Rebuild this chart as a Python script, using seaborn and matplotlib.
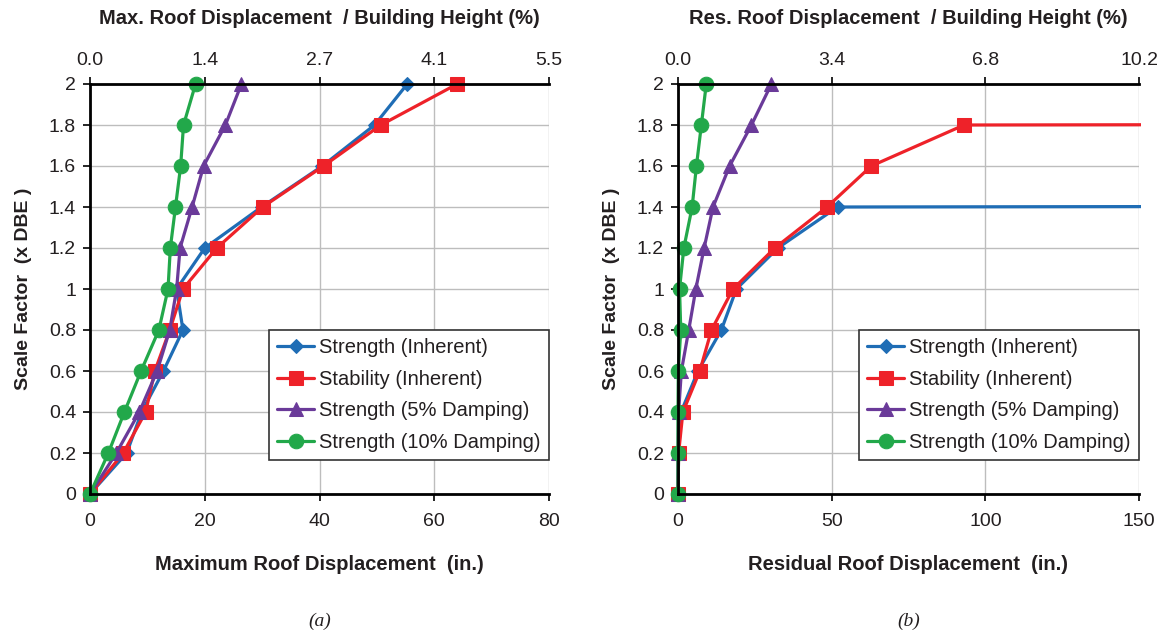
import numpy as np
import pandas as pd
import matplotlib
matplotlib.use("Agg")
import matplotlib.pyplot as plt
import seaborn as sns
from matplotlib.patches import Rectangle

sns.set_theme(style="white")
plt.rcParams['font.family'] = ['Liberation Sans', 'DejaVu Sans']

# ---------------- data ----------------
scale_factor = [0, 0.2, 0.4, 0.6, 0.8, 1.0, 1.2, 1.4, 1.6, 1.8, 2.0]
COLLAPSE = 1.0e4  # residual drift beyond plotted range (collapse)

max_strength_inh = [0, 6.4, 9.0, 12.8, 16.2, 15.1, 20.0, 29.9, 40.5, 49.6, 55.3]
max_stability_inh = [0, 5.8, 9.7, 11.3, 13.9, 16.2, 22.1, 30.1, 40.7, 50.7, 64.0]
max_strength_5 = [0, 4.6, 8.6, 11.7, 13.9, 15.1, 15.7, 17.8, 19.8, 23.6, 26.4]
max_strength_10 = [0, 3.2, 6.0, 8.9, 12.0, 13.6, 14.0, 14.9, 15.8, 16.3, 18.4]

res_strength_inh = [0, 0.2, 1.0, 6.5, 14.1, 19.0, 32.5, 51.9, COLLAPSE, np.nan, np.nan]
res_stability_inh = [0, 0.2, 1.6, 7.1, 10.9, 17.9, 31.5, 48.5, 62.9, 93.1, COLLAPSE]
res_strength_5 = [0, 0.0, 0.2, 1.1, 3.5, 5.8, 8.5, 11.4, 16.8, 23.9, 30.4]
res_strength_10 = [0, 0.0, 0.0, 0.1, 0.9, 0.5, 1.9, 4.6, 6.0, 7.6, 9.2]

series_names = ["Strength (Inherent)", "Stability (Inherent)",
                "Strength (5% Damping)", "Strength (10% Damping)"]
colors = ["#1f6db5", "#ee2229", "#6a3a99", "#22a84a"]
markers = ["D", "s", "^", "o"]
msizes = [7, 10, 9.5, 10.5]

y_ticks = [0, 0.2, 0.4, 0.6, 0.8, 1.0, 1.2, 1.4, 1.6, 1.8, 2.0]
y_ticklabels = ["0", "0.2", "0.4", "0.6", "0.8", "1", "1.2", "1.4", "1.6", "1.8", "2"]

a_xticks = [0, 20, 40, 60, 80]
a_top_labels = ["0.0", "1.4", "2.7", "4.1", "5.5"]
b_xticks = [0, 50, 100, 150]
b_top_labels = ["0.0", "3.4", "6.8", "10.2"]

TXT = "#231f20"
fig = plt.figure(figsize=(11.63, 6.34), dpi=100)
W, H = 1163, 634
ax_a = fig.add_axes([90 / W, 1 - 494 / H, (549 - 90) / W, 410 / H])
ax_b = fig.add_axes([678 / W, 1 - 494 / H, (1139 - 678) / W, 410 / H])


def draw(ax, xs_list, xticks, xlim, toplabels, bottom_label, top_label, caption):
    for xs, name, c, m, ms in zip(xs_list, series_names, colors, markers, msizes):
        df = pd.DataFrame({"x": xs, "y": scale_factor})
        sns.lineplot(data=df, x="x", y="y", ax=ax, sort=False, estimator=None,
                     color=c, marker=m, markersize=ms, markeredgecolor=c,
                     linewidth=2.3, label=name)
    clip = Rectangle((-0.05, -0.05), 1.055, 1.12, transform=ax.transAxes)
    for ln in ax.lines:
        ln.set_clip_path(clip)
    ax.set_xlim(*xlim)
    ax.set_ylim(0, 2)
    ax.set_xticks(xticks)
    ax.set_xticklabels([str(t) for t in xticks])
    ax.set_yticks(y_ticks)
    ax.set_yticklabels(y_ticklabels)
    ax.grid(True, color="#bdbdbd", linewidth=1.0)
    ax.set_axisbelow(True)
    for s in ["left", "bottom", "top"]:
        ax.spines[s].set_visible(True)
        ax.spines[s].set_color("black")
        ax.spines[s].set_linewidth(2.0)
    ax.spines["right"].set_visible(False)
    ax.tick_params(axis="both", which="both", direction="out", length=5,
                   width=1.2, color="black", labelsize=14, labelcolor=TXT,
                   left=True, bottom=True, pad=5)
    ax.tick_params(axis="x", pad=9)
    ax.set_xlabel(bottom_label, fontsize=14.5, fontweight="bold", color=TXT, labelpad=18)
    ax.set_ylabel("Scale Factor  (x DBE )", fontsize=14, fontweight="bold",
                  color=TXT, labelpad=12)
    sec = ax.secondary_xaxis("top")
    sec.set_xticks(xticks, labels=toplabels)
    sec.tick_params(direction="out", length=5, width=1.2, color="black",
                    labelsize=14, labelcolor=TXT, pad=6)
    sec.spines["top"].set_visible(False)
    sec.set_xlabel(top_label, fontsize=14.5, fontweight="bold", color=TXT, labelpad=20)
    leg = ax.legend(loc="lower right", bbox_to_anchor=(1.0, 0.083), fontsize=14.5,
                    frameon=True, fancybox=False, framealpha=1, edgecolor="#333333",
                    handlelength=1.85, handletextpad=0.25, labelspacing=0.62,
                    borderpad=0.4, borderaxespad=0)
    leg.get_frame().set_linewidth(1.2)
    for t in leg.get_texts():
        t.set_color(TXT)
    ax.text(0.5, -0.31, caption, transform=ax.transAxes, ha="center", va="center",
            fontsize=14, fontstyle="italic", family=["Liberation Serif"], color=TXT)


draw(ax_a, [max_strength_inh, max_stability_inh, max_strength_5, max_strength_10],
     a_xticks, (0, 80), a_top_labels, "Maximum Roof Displacement  (in.)",
     "Max. Roof Displacement  / Building Height (%)", "(a)")
draw(ax_b, [res_strength_inh, res_stability_inh, res_strength_5, res_strength_10],
     b_xticks, (0, 150), b_top_labels, "Residual Roof Displacement  (in.)",
     "Res. Roof Displacement  / Building Height (%)", "(b)")

fig.savefig("out.png", dpi=100, facecolor="white")
